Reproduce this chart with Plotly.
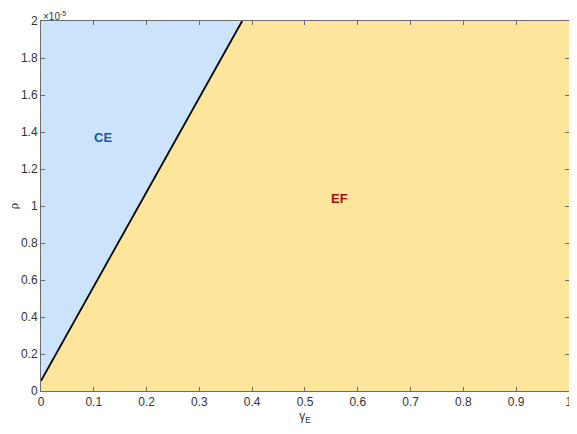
"""Phase diagram of rho against gamma_E: CE region vs EF region."""
import plotly.graph_objects as go

# boundary between the two regions
gamma_boundary = [0.0, 0.381]
rho_boundary = [0.055e-5, 2.0e-5]

x_ticks = [0, 0.1, 0.2, 0.3, 0.4, 0.5, 0.6, 0.7, 0.8, 0.9, 1]
x_tick_labels = ['0', '0.1', '0.2', '0.3', '0.4', '0.5', '0.6', '0.7', '0.8', '0.9', '1']
y_ticks = [0, 0.2e-5, 0.4e-5, 0.6e-5, 0.8e-5, 1.0e-5, 1.2e-5, 1.4e-5, 1.6e-5, 1.8e-5, 2.0e-5]
y_tick_labels = ['0', '0.2', '0.4', '0.6', '0.8', '1', '1.2', '1.4', '1.6', '1.8', '2']

region_labels = ['CE', 'EF']
region_x = [0.117, 0.566]
region_y = [1.37e-5, 1.04e-5]
region_colors = ['#1558a6', '#a80d0d']

blue = '#cce4fb'
yellow = '#fde59b'
axis_color = '#6b6b6b'
font = 'Liberation Sans, Arial, sans-serif'

fig = go.Figure()

# CE region: everything left of the boundary line
fig.add_trace(go.Scatter(x=gamma_boundary, y=rho_boundary, mode='lines',
                         fill='tozerox', fillcolor=blue,
                         line=dict(color='black', width=1.8),
                         hoverinfo='skip', showlegend=False))

for label, xx, yy, col in zip(region_labels, region_x, region_y, region_colors):
    fig.add_annotation(x=xx, y=yy, text='<b>' + label + '</b>', showarrow=False,
                       font=dict(family=font, size=13, color=col))

fig.add_annotation(xref='paper', yref='paper', x=0.0, y=1.0, xanchor='left',
                   yanchor='bottom', yshift=-3, showarrow=False,
                   text='\u00d710<sup>-5</sup>',
                   font=dict(family=font, size=10, color='#333333'))

axis_common = dict(showgrid=False, zeroline=False, ticks='inside', ticklen=4,
                   tickcolor=axis_color, showline=True, linecolor=axis_color,
                   linewidth=1, mirror='ticks', automargin=False,
                   ticklabeloverflow='allow',
                   tickfont=dict(family=font, size=12, color='#333333'))

fig.update_xaxes(range=[0, 1.0001], tickvals=x_ticks, ticktext=x_tick_labels,
                 title=dict(text='\u03b3<sub>E</sub>', standoff=2,
                            font=dict(family=font, size=12, color='#333333')),
                 **axis_common)
fig.update_yaxes(range=[0, 2e-5], tickvals=y_ticks, ticktext=y_tick_labels,
                 title=dict(text='\u03c1', standoff=8,
                            font=dict(family='DejaVu Serif, serif', size=11,
                                      color='#333333')),
                 **axis_common)

# the page body adds an 8px margin, so the figure is 8px smaller than the window
fig.update_layout(width=569, height=426, plot_bgcolor=yellow, paper_bgcolor='white',
                  margin=dict(l=33, r=8, t=13, b=43), showlegend=False)

fig.write_html('out.html')
